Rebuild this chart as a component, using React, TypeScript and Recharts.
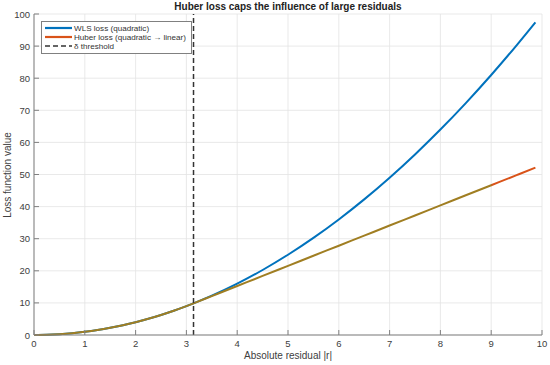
import React from 'react';
import { LineChart, Line, XAxis, YAxis, CartesianGrid, ReferenceLine, Label } from 'recharts';

const residuals = [0, 0.25, 0.5, 0.75, 1, 1.25, 1.5, 1.75, 2, 2.25, 2.5, 2.75, 3, 3.14, 3.5, 4, 4.5, 5, 5.5, 6, 6.5, 7, 7.5, 8, 8.5, 9, 9.5, 9.87];
const wlsLoss = [0, 0.06, 0.25, 0.56, 1, 1.56, 2.25, 3.06, 4, 5.06, 6.25, 7.56, 9, 9.86, 12.25, 16, 20.25, 25, 30.25, 36, 42.25, 49, 56.25, 64, 72.25, 81, 90.25, 97.4];
const huberLoss = [0, 0.06, 0.25, 0.56, 1, 1.56, 2.25, 3.06, 4, 5.06, 6.25, 7.56, 9, 9.86, 12.12, 15.26, 18.4, 21.54, 24.68, 27.82, 30.96, 34.1, 37.24, 40.38, 43.52, 46.66, 49.8, 52.12];
const deltaThreshold = 3.14;
const xTicks = [0, 1, 2, 3, 4, 5, 6, 7, 8, 9, 10];
const yTicks = [0, 10, 20, 30, 40, 50, 60, 70, 80, 90, 100];

const title = 'Huber loss caps the influence of large residuals';
const xLabel = 'Absolute residual |r|';
const yLabel = 'Loss function value';
const legendItems = [
  { name: 'WLS loss (quadratic)', color: '#0072BD', dashed: false },
  { name: 'Huber loss (quadratic \u2192 linear)', color: '#D95319', dashed: false },
  { name: '\u03B4  threshold', color: '#333333', dashed: true },
];

const data = residuals.map((r, i) => ({ r, wls: wlsLoss[i], huber: huberLoss[i] }));

const FONT = 'Arial, "Liberation Sans", Helvetica, sans-serif';
const FRAME = '#808080';
const TEXT = '#404040';
const TICK_LEN = 5;
const MARGIN = 3;

const BottomTick = (props: any) => {
  const { x, y, payload } = props;
  const axisY = y - MARGIN;
  return (
    <g>
      <line x1={x} x2={x} y1={axisY} y2={axisY - TICK_LEN} stroke={FRAME} strokeWidth={1} />
      <text x={x} y={axisY + 12} textAnchor="middle" fontSize={9.5} fill={TEXT} fontFamily={FONT}>{payload.value}</text>
    </g>
  );
};
const TopTick = (props: any) => {
  const { x, y } = props;
  const axisY = y + MARGIN;
  return <line x1={x} x2={x} y1={axisY} y2={axisY + TICK_LEN} stroke={FRAME} strokeWidth={1} />;
};
const LeftTick = (props: any) => {
  const { x, y, payload } = props;
  const axisX = x + MARGIN;
  return (
    <g>
      <line x1={axisX} x2={axisX + TICK_LEN} y1={y} y2={y} stroke={FRAME} strokeWidth={1} />
      <text x={axisX - 4} y={y + 3.5} textAnchor="end" fontSize={9.5} fill={TEXT} fontFamily={FONT}>{payload.value}</text>
    </g>
  );
};
const RightTick = (props: any) => {
  const { x, y } = props;
  const axisX = x - MARGIN;
  return <line x1={axisX} x2={axisX - TICK_LEN} y1={y} y2={y} stroke={FRAME} strokeWidth={1} />;
};

export default function App() {
  return (
    <div style={{ position: 'absolute', left: 0, top: 0, width: 550, height: 365, background: '#fff', fontFamily: FONT }}>
      <LineChart width={550} height={365} data={data} margin={{ top: 14, right: 8, bottom: 0, left: 8 }}>
        <defs>
          <linearGradient id="huberGrad" x1="0" y1="0" x2="1" y2="0">
            <stop offset="0%" stopColor="#A07E22" />
            <stop offset="91%" stopColor="#A07E22" />
            <stop offset="91.5%" stopColor="#D95319" />
            <stop offset="100%" stopColor="#D95319" />
          </linearGradient>
        </defs>
        <CartesianGrid stroke="#e3e3e3" strokeWidth={0.8} />
        <XAxis
          dataKey="r"
          type="number"
          domain={[0, 10]}
          ticks={xTicks}
          interval={0}
          height={30}
          tickSize={0}
          tickMargin={MARGIN}
          tick={<BottomTick />}
          axisLine={{ stroke: FRAME }}
          allowDataOverflow
        >
          <Label value={xLabel} position="insideBottom" offset={6} style={{ fontSize: 10, fill: TEXT, fontFamily: FONT }} />
        </XAxis>
        <XAxis
          xAxisId="top"
          orientation="top"
          dataKey="r"
          type="number"
          domain={[0, 10]}
          ticks={xTicks}
          interval={0}
          height={0}
          tickSize={0}
          tickMargin={MARGIN}
          tick={<TopTick />}
          axisLine={{ stroke: FRAME }}
        />
        <YAxis
          type="number"
          domain={[0, 100]}
          ticks={yTicks}
          interval={0}
          width={26}
          tickSize={0}
          tickMargin={MARGIN}
          tick={<LeftTick />}
          axisLine={{ stroke: FRAME }}
        />
        <YAxis
          yAxisId="right"
          orientation="right"
          type="number"
          domain={[0, 100]}
          ticks={yTicks}
          interval={0}
          width={0}
          tickSize={0}
          tickMargin={MARGIN}
          tick={<RightTick />}
          axisLine={{ stroke: FRAME }}
        />
        <Line type="monotone" dataKey="wls" stroke="#0072BD" strokeWidth={2} dot={false} isAnimationActive={false} />
        <Line type="monotone" dataKey="huber" stroke="url(#huberGrad)" strokeWidth={2} dot={false} isAnimationActive={false} />
        <ReferenceLine x={deltaThreshold} stroke="#333333" strokeWidth={1.5} strokeDasharray="5 3" />
      </LineChart>
      <div style={{ position: 'absolute', left: 0, width: 576, top: 1, textAlign: 'center', fontWeight: 'bold', fontSize: 10, color: '#222', whiteSpace: 'nowrap' }}>
        {title}
      </div>
      <div style={{ position: 'absolute', left: 7, top: 175, transform: 'translate(-50%, -50%) rotate(-90deg)', fontSize: 10, color: TEXT, whiteSpace: 'nowrap' }}>
        {yLabel}
      </div>
      <div style={{ position: 'absolute', left: 41, top: 21, width: 149, height: 31, border: `1px solid ${FRAME}`, background: '#fff', boxSizing: 'content-box' }}>
        {legendItems.map((it, i) => (
          <div key={i} style={{ position: 'absolute', left: 3, top: 1.5 + i * 9, height: 9, display: 'flex', alignItems: 'center', whiteSpace: 'nowrap' }}>
            <svg width={27} height={6} style={{ marginRight: 2 }}>
              <line x1={0} x2={27} y1={3} y2={3} stroke={it.color} strokeWidth={it.dashed ? 1.5 : 2.2} strokeDasharray={it.dashed ? '5 3' : undefined} />
            </svg>
            <span style={{ fontSize: 8.1, color: '#333', lineHeight: '9px' }}>{it.name}</span>
          </div>
        ))}
      </div>
    </div>
  );
}
